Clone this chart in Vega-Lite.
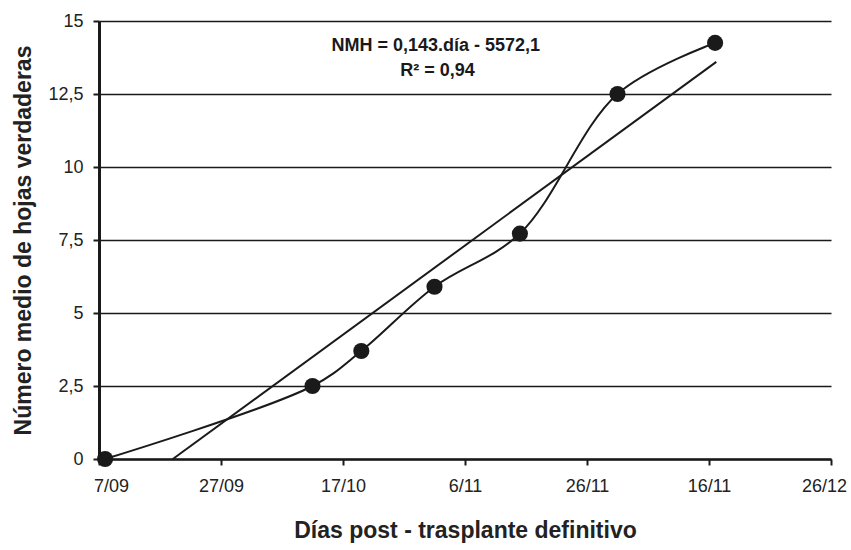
{
  "$schema": "https://vega.github.io/schema/vega-lite/v6.json",
  "autosize": "none",
  "width": 732,
  "height": 438,
  "padding": {"left": 99, "top": 21, "right": 20, "bottom": 91},
  "background": "white",
  "config": {
    "view": {"stroke": null},
    "font": "Liberation Sans",
    "axis": {"labelFont": "Liberation Sans", "titleFont": "Liberation Sans", "labelColor": "#222", "titleColor": "#222"}
  },
  "datasets": {
    "obs": [
      {"dia": 1, "nmh": 0},
      {"dia": 35, "nmh": 2.5},
      {"dia": 43, "nmh": 3.7},
      {"dia": 55, "nmh": 5.9},
      {"dia": 69, "nmh": 7.72},
      {"dia": 85, "nmh": 12.5},
      {"dia": 101, "nmh": 14.25}
    ],
    "trend": [
      {"dia": 12.1, "nmh": 0},
      {"dia": 101.2, "nmh": 13.6}
    ],
    "notes": [
      {"dia": 55.2, "nmh": 14.13, "txt": "NMH = 0,143.día - 5572,1"},
      {"dia": 55.5, "nmh": 13.28, "txt": "R² = 0,94"}
    ]
  },
  "layer": [
    {
      "data": {"name": "trend"},
      "mark": {"type": "line", "color": "#1a1a1a", "strokeWidth": 2},
      "encoding": {
        "x": {
          "field": "dia", "type": "quantitative",
          "scale": {"domain": [0, 120], "nice": false, "zero": false},
          "axis": {
            "values": [0, 20, 40, 60, 80, 100, 120],
            "labelExpr": "['7/09','27/09','17/10','6/11','26/11','16/11','26/12'][round(datum.value/20)]",
            "grid": false,
            "domainColor": "#1a1a1a", "domainWidth": 2.5,
            "tickColor": "#1a1a1a", "tickWidth": 2, "tickSize": 6,
            "labelFontSize": 18, "labelPadding": 12, "labelFlush": false, "labelBound": false,
            "labelOffset": {"condition": [{"test": "datum.value == 0", "value": 12}, {"test": "datum.value == 120", "value": -7}], "value": 0},
            "title": "Días post - trasplante definitivo",
            "titleFontSize": 23, "titleFontWeight": "bold", "titlePadding": 24
          }
        },
        "y": {
          "field": "nmh", "type": "quantitative",
          "scale": {"domain": [0, 15], "nice": false},
          "axis": {
            "values": [0, 2.5, 5, 7.5, 10, 12.5, 15],
            "labelExpr": "replace(format(datum.value, '~g'), '.', ',')",
            "grid": true, "gridColor": "#1a1a1a", "gridWidth": 1.5, "gridOpacity": 1,
            "domainColor": "#1a1a1a", "domainWidth": 3,
            "tickColor": "#1a1a1a", "tickWidth": 2, "tickSize": 6,
            "labelFontSize": 18, "labelPadding": 10,
            "title": "Número medio de hojas verdaderas",
            "titleFontSize": 23, "titleFontWeight": "bold", "titlePadding": 12
          }
        }
      }
    },
    {
      "data": {"name": "obs"},
      "mark": {"type": "line", "color": "#1a1a1a", "strokeWidth": 2, "interpolate": "catmull-rom"},
      "encoding": {
        "x": {"field": "dia", "type": "quantitative"},
        "y": {"field": "nmh", "type": "quantitative"}
      }
    },
    {
      "data": {"name": "obs"},
      "mark": {"type": "point", "filled": true, "color": "#1a1a1a", "opacity": 1, "size": 260},
      "encoding": {
        "x": {"field": "dia", "type": "quantitative"},
        "y": {"field": "nmh", "type": "quantitative"}
      }
    },
    {
      "data": {"name": "notes"},
      "mark": {"type": "text", "fontSize": 18, "fontWeight": "bold", "color": "#1a1a1a", "align": "center", "baseline": "middle"},
      "encoding": {
        "x": {"field": "dia", "type": "quantitative"},
        "y": {"field": "nmh", "type": "quantitative"},
        "text": {"field": "txt"}
      }
    }
  ]
}
